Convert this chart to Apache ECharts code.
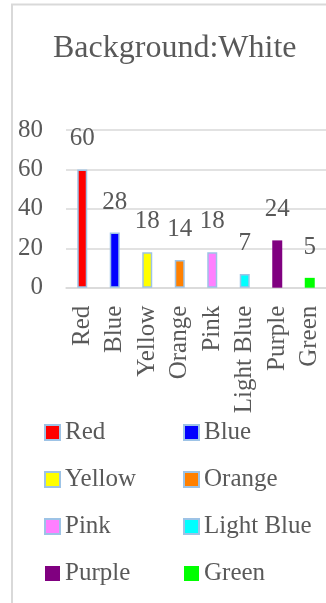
<!DOCTYPE html>
<html>
<head>
<meta charset="utf-8">
<script src="https://cdn.jsdelivr.net/npm/echarts@6/dist/echarts.min.js"></script>
<style>
html,body{margin:0;padding:0;background:#fff;}
#c{width:326px;height:603px;}
</style>
</head>
<body>
<div id="c"></div>
<script>
// ---- data ----
const titleText = 'Background:White';
const categories = ['Red', 'Blue', 'Yellow', 'Orange', 'Pink', 'Light Blue', 'Purple', 'Green'];
const values = [60, 28, 18, 14, 18, 7, 24, 5];
const yMin = 0, yMax = 80, yInterval = 20;

// ---- styles ----
const barColors = ['#FF0000', '#0000FF', '#FFFF00', '#FF8000', '#FF80FF', '#00FFFF', '#800080', '#00FF00'];
const outlined = [true, true, true, true, true, true, false, false];
const FONT = '"Liberation Serif", "DejaVu Serif", serif';
const TXT = '#595959';
const GRID = '#D9D9D9';
const OUTLINE = '#9DC3E6';

const series = categories.map((name, i) => ({
  name: name,
  type: 'bar',
  stack: 'all',
  barWidth: 10,
  data: values.map((v, j) => (j === i ? v : '-')),
  itemStyle: {
    color: barColors[i],
    borderColor: outlined[i] ? OUTLINE : barColors[i],
    borderWidth: outlined[i] ? 1.5 : 0
  },
  label: {
    show: true,
    position: 'top',
    distance: 18,
    color: TXT,
    fontSize: 25,
    fontFamily: FONT
  }
}));

const col1 = categories.filter((_, i) => i % 2 === 0);
const col2 = categories.filter((_, i) => i % 2 === 1);
const legendBase = {
  orient: 'vertical',
  top: 420,
  padding: 0,
  itemWidth: 15,
  itemHeight: 15,
  itemGap: 22,
  icon: 'rect',
  textStyle: { color: TXT, fontSize: 25, fontFamily: FONT },
  selectedMode: false
};

const chart = echarts.init(document.getElementById('c'), null, { renderer: 'canvas' });
chart.setOption({
  backgroundColor: '#ffffff',
  animation: false,
  title: {
    text: titleText,
    left: 48,
    top: 28,
    textStyle: { color: TXT, fontSize: 32, fontWeight: 'normal', fontFamily: FONT }
  },
  graphic: [{
    type: 'rect',
    shape: { x: 12, y: 4.5, width: 600, height: 800 },
    style: { fill: 'none', stroke: GRID, lineWidth: 2 },
    silent: true
  }],
  legend: [
    Object.assign({}, legendBase, { left: 44, data: col1 }),
    Object.assign({}, legendBase, { left: 183, data: col2 })
  ],
  grid: { left: 66, top: 130, width: 269, height: 157.7, containLabel: false },
  xAxis: {
    type: 'category',
    data: categories,
    axisLine: { show: true, lineStyle: { color: GRID, width: 1.5 } },
    axisTick: { show: false },
    axisLabel: { interval: 0, rotate: 90, margin: 18, color: TXT, fontSize: 25, fontFamily: FONT }
  },
  yAxis: {
    type: 'value',
    min: yMin, max: yMax, interval: yInterval,
    axisLine: { show: false },
    axisTick: { show: false },
    splitLine: { lineStyle: { color: GRID, width: 1.5 } },
    axisLabel: { margin: 23, color: TXT, fontSize: 25, fontFamily: FONT }
  },
  series: series
});
</script>
</body>
</html>
